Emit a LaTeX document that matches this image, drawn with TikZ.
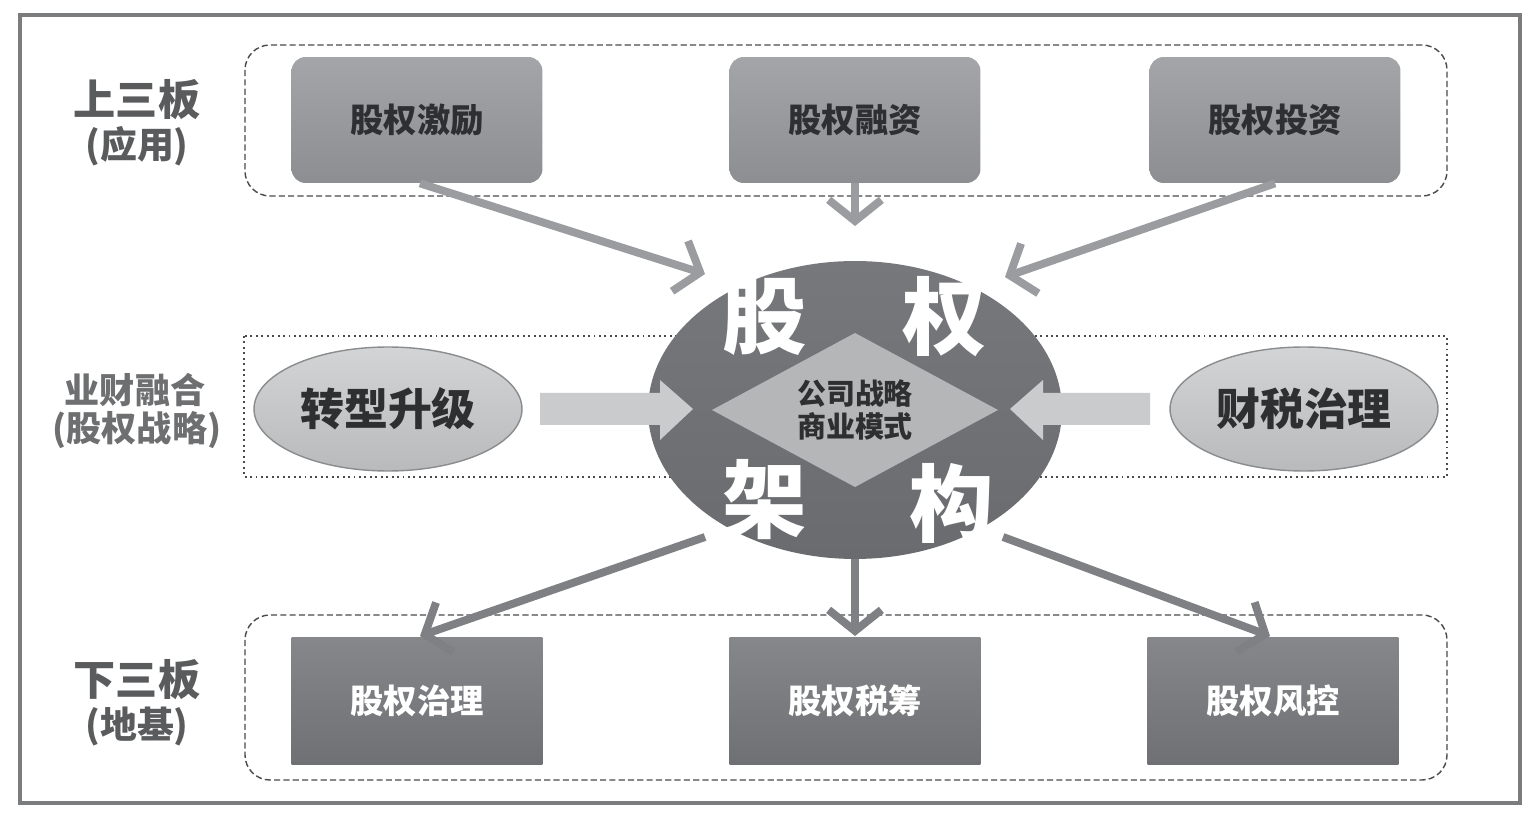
\documentclass[tikz,border=0pt]{standalone}
\usepackage{fontspec}
\setmainfont{Noto Sans CJK SC}
\usetikzlibrary{arrows.meta,shapes.geometric}
\definecolor{framec}{HTML}{7B7C7E}
\definecolor{boxline}{HTML}{4A4B4D}
\definecolor{toptop}{HTML}{A3A5A8}
\definecolor{topbot}{HTML}{8C8E91}
\definecolor{bottop}{HTML}{85878A}
\definecolor{botbot}{HTML}{6E7073}
\definecolor{elltop}{HTML}{D2D4D6}
\definecolor{ellbot}{HTML}{B8BABC}
\definecolor{ellline}{HTML}{8A8C8E}
\definecolor{coretop}{HTML}{76787B}
\definecolor{corebot}{HTML}{696B6E}
\definecolor{diam}{HTML}{B4B6B8}
\definecolor{arrtop}{HTML}{9A9C9F}
\definecolor{arrbot}{HTML}{7E8083}
\definecolor{blockc}{HTML}{C9CBCD}
\definecolor{labc}{HTML}{5A5B5D}
\definecolor{labmid}{HTML}{6E6F71}
\definecolor{txtdark}{HTML}{2E2F31}
\tikzset{
  topbox/.style={rectangle, rounded corners=8pt, minimum width=5.02cm, minimum height=2.52cm,
    top color=toptop, bottom color=topbot, draw=none, text=txtdark,
    font=\bfseries\fontsize{19pt}{22pt}\selectfont},
  botbox/.style={rectangle, minimum width=5.02cm, minimum height=2.54cm,
    top color=bottop, bottom color=botbot, draw=none, text=white,
    font=\bfseries\fontsize{19pt}{22pt}\selectfont},
  sideell/.style={ellipse, minimum width=5.36cm, minimum height=2.48cm, inner sep=0pt,
    top color=elltop, bottom color=ellbot, draw=ellline, line width=0.8pt, text=txtdark,
    font=\bfseries\fontsize{25pt}{28pt}\selectfont},
  grouplab/.style={text=labc, font=\bfseries\fontsize{24pt}{28pt}\selectfont},
  grouppar/.style={text=labc, font=\bfseries\fontsize{21pt}{24pt}\selectfont},
  bigch/.style={text=white, font=\bfseries\fontsize{48pt}{50pt}\selectfont},
  flowtop/.style={draw=arrtop, line width=4.5pt,
    -{Straight Barb[length=12pt,width=30pt,line width=4.5pt]}},
  flowbot/.style={draw=arrbot, line width=4.5pt,
    -{Straight Barb[length=12pt,width=30pt,line width=4.5pt]}},
}
\begin{document}
\begin{tikzpicture}[x=0.02cm,y=-0.02cm]
\useasboundingbox (0,0) rectangle (1536,817);
\fill[white] (0,0) rectangle (1536,817);
% outer frame
\draw[framec, line width=2.2pt] (20,15) rectangle (1520,803);
% group frames
\draw[boxline, line width=0.8pt, dashed, dash pattern=on 3.5pt off 1.8pt, rounded corners=0.5cm] (245,45) rectangle (1447,196);
\draw[boxline, line width=1.1pt, dotted] (244,336) rectangle (1447,477);
\draw[boxline, line width=0.8pt, dashed, dash pattern=on 3.5pt off 1.8pt, rounded corners=0.5cm] (245,615) rectangle (1447,780);

% group labels
\node[grouplab] (l1) at (137,100) {上三板};
\node[grouppar] (l1b) at (137,146) {(应用)};
\node[text=labmid, font=\bfseries\fontsize{20pt}{24pt}\selectfont] (l2) at (135,390) {业财融合};
\node[text=labmid, font=\bfseries\fontsize{20pt}{24pt}\selectfont] (l2b) at (137,430) {(股权战略)};
\node[grouplab] (l3) at (137,680) {下三板};
\node[grouppar] (l3b) at (137,727) {(地基)};

% top boxes
\node[topbox] (t1) at (417,120) {股权激励};
\node[topbox] (t2) at (855,120) {股权融资};
\node[topbox] (t3) at (1275,120) {股权投资};
% bottom boxes
\node[botbox] (b1) at (417,701) {股权治理};
\node[botbox] (b2) at (855,701) {股权税筹};
\node[botbox] (b3) at (1273,701) {股权风控};

% side ellipses
\node[sideell] (e1) at (388,409) {转型升级};
\node[sideell] (e2) at (1304,409) {财税治理};

% core
\node[ellipse, minimum width=8.28cm, minimum height=5.96cm, inner sep=0pt,
  top color=coretop, bottom color=corebot, draw=none] (core) at (855,410) {};
\fill[diam] (712,410) -- (855,333) -- (998,410) -- (855,487) -- cycle;
\node[text=txtdark, align=center, inner sep=0pt, font=\bfseries\fontsize{16.5pt}{20pt}\selectfont] (dm) at (855,410)
  {公司战略\\[-1pt]商业模式};
\node[bigch] (c1) at (765,317) {股};
\node[bigch] (c2) at (945,317) {权};
\node[bigch] (c3) at (765,500) {架};
\node[bigch] (c4) at (952,503) {构};

% block arrows
\fill[blockc] (540,393) -- (660,393) -- (660,380) -- (693,409) -- (660,440) -- (660,425) -- (540,425) -- cycle;
\fill[blockc] (1150,393) -- (1043,393) -- (1043,380) -- (1010,409) -- (1043,440) -- (1043,425) -- (1150,425) -- cycle;
\coordinate (ba1) at (693,409);
\coordinate (ba2) at (1010,409);

% connector end points
\coordinate (in1) at (705,274);
\coordinate (in2) at (855,226);
\coordinate (in3) at (1005,277);
\coordinate (out1) at (705,537);
\coordinate (out3) at (1003,537);
\coordinate (end1) at (420,636);
\coordinate (end2) at (855,636);
\coordinate (end3) at (1270,636);

\draw[flowtop] ([xshift=0.06cm]t1.south) -- (in1);
\draw[flowtop] (t2.south) -- (in2);
\draw[flowtop] (t3.south) -- (in3);
\draw[flowbot] (out1) -- (end1);
\draw[flowbot] (core.south) -- (end2);
\draw[flowbot] (out3) -- (end3);
\end{tikzpicture}
\end{document}
